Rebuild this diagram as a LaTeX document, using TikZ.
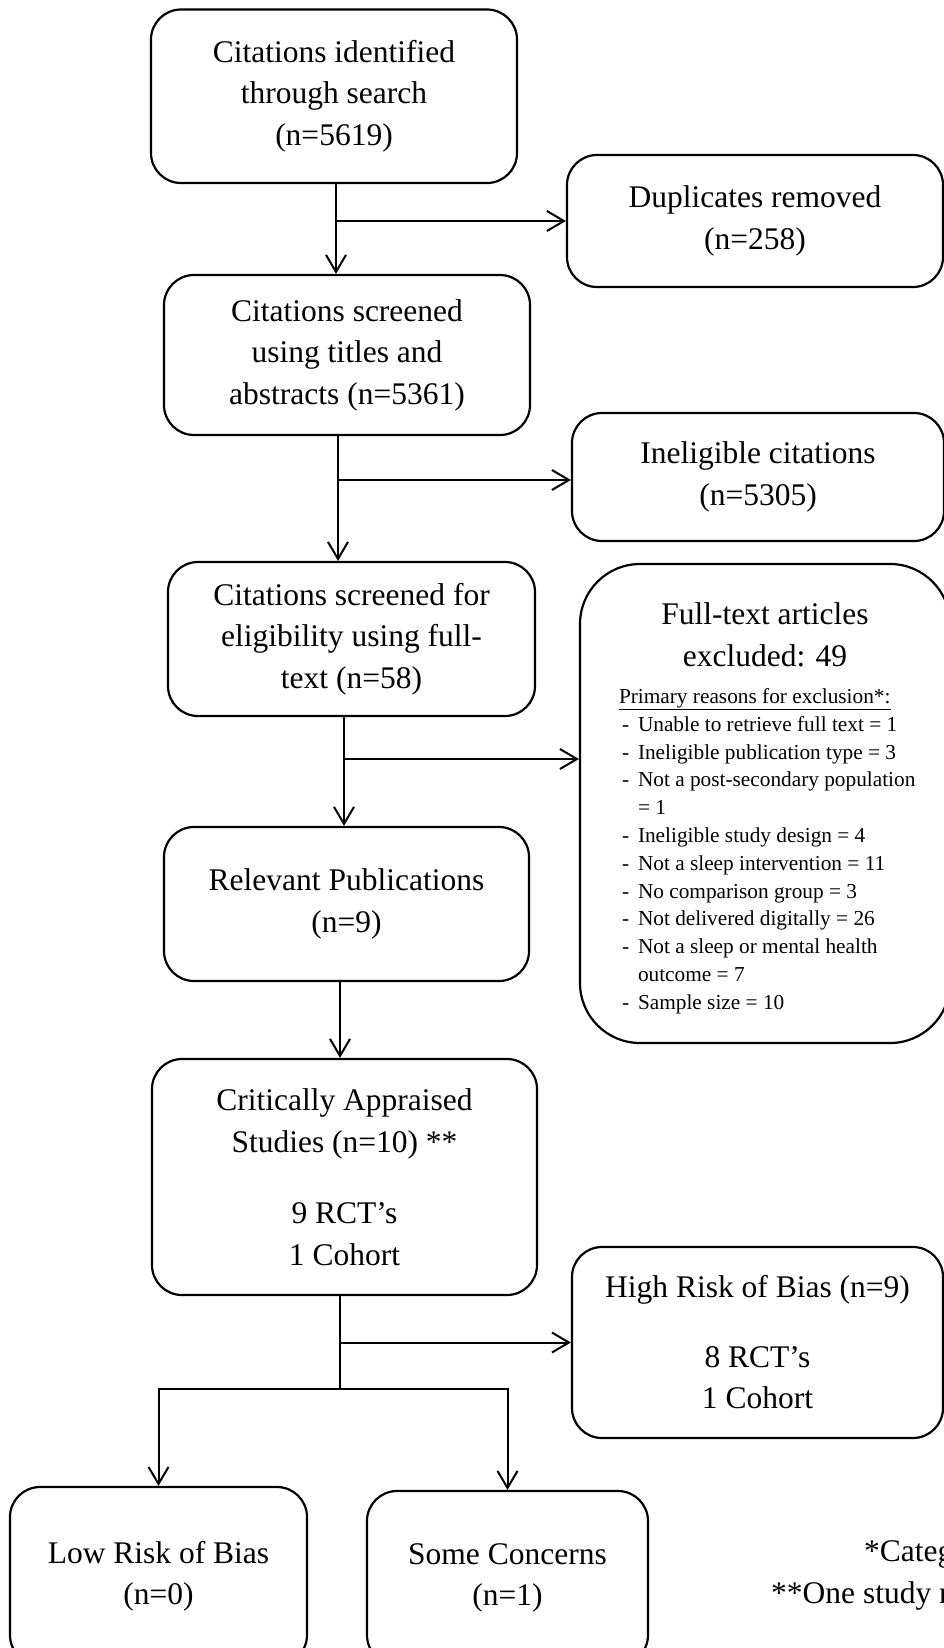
\documentclass[tikz,border=0pt]{standalone}
\usepackage{fontspec}
\setmainfont{Liberation Serif}
\usetikzlibrary{arrows.meta,calc}
\newcommand\bigf{\fontsize{31.5}{41.5}\selectfont}
\newcommand\smallf{\fontsize{21.3}{27.8}\selectfont}
\newcommand\litem[1]{\mbox{\makebox[19pt][l]{\hspace{3pt}-}#1}}
\newcommand\lcont[1]{\mbox{\hspace*{19pt}#1}}
\begin{document}
\begin{tikzpicture}[x=1pt,y=-1pt,
  box/.style={draw, line width=2.2pt, rounded corners=30pt, inner sep=0pt, align=center, font=\bigf},
  arr/.style={line width=2pt, -{Straight Barb[length=17pt,width=20pt,line width=2pt]}},
  ln/.style={line width=2pt},
  foot/.style={anchor=base west, inner sep=0pt, font=\bigf}]
\useasboundingbox (0,0) rectangle (944,1648);

\node[box, minimum width=366pt, minimum height=173.5pt] (b1) at (334,96.25)
  {Citations identified\\through search\\(n=5619)};
\node[box, minimum width=376pt, minimum height=132pt] (dup) at (755,221)
  {Duplicates removed\\(n=258)};
\node[box, minimum width=366pt, minimum height=160pt] (b2) at (347,355)
  {Citations screened\\using titles and\\abstracts (n=5361)};
\node[box, minimum width=372pt, minimum height=128pt] (inel) at (758,477)
  {Ineligible citations\\(n=5305)};
\node[box, minimum width=367pt, minimum height=154pt] (b3) at (351.5,639)
  {Citations screened for\\eligibility using full-\\text (n=58)};
\node[box, rounded corners=60pt, minimum width=370pt, minimum height=479pt] (ft) at (765,803.5)
  {\parbox{292pt}{\vspace*{9.6pt}\centering\bigf Full-text articles\\excluded: 49\par
   \vspace{9.5pt}\raggedright\smallf
   \mbox{\underline{Primary reasons for exclusion*:}}\\
   \litem{Unable to retrieve full text = 1}\\
   \litem{Ineligible publication type = 3}\\
   \litem{Not a post-secondary population}\\
   \lcont{= 1}\\
   \litem{Ineligible study design = 4}\\
   \litem{Not a sleep intervention = 11}\\
   \litem{No comparison group = 3}\\
   \litem{Not delivered digitally = 26}\\
   \litem{Not a sleep or mental health}\\
   \lcont{outcome = 7}\\
   \litem{Sample size = 10}\par}};
\node[box, minimum width=365pt, minimum height=154pt] (b4) at (346.5,904)
  {Relevant Publications\\(n=9)};
\node[box, minimum width=385pt, minimum height=236pt] (b5) at (344.5,1177)
  {Critically Appraised\\Studies (n=10) **\\[30pt]9 RCT’s\\1 Cohort};
\node[box, minimum width=371pt, minimum height=191pt] (high) at (757.5,1342.5)
  {High Risk of Bias (n=9)\\[28pt]8 RCT’s\\1 Cohort};
\node[box, minimum width=297pt, minimum height=178pt] (low) at (158.5,1576)
  {Low Risk of Bias\\(n=0)};
\node[box, minimum width=281pt, minimum height=174pt] (some) at (507.5,1578)
  {Some Concerns\\(n=1)};

\node[foot] (fn1) at (864,1561) {*Categ};
\node[foot] (fn2) at (771,1603) {**One study r};

% connectors
\draw[arr] ([xshift=2pt]b1.south) -- ([xshift=2pt]b1.south |- b2.north);
\draw[arr] ([xshift=2pt]b1.south |- dup.west) -- (dup.west);

\draw[arr] ([xshift=-9pt]b2.south) -- ([xshift=-9pt]b2.south |- b3.north);
\draw[arr] ([xshift=-9pt,yshift=-3pt]b2.south |- inel.west) -- ([yshift=-3pt]inel.west);

\draw[arr] ([xshift=-7.5pt]b3.south) -- ([xshift=-7.5pt]b3.south |- b4.north);
\draw[arr] ([xshift=-7.5pt,yshift=44.5pt]b3.south |- ft.west) -- ([yshift=44.5pt]ft.west);

\draw[arr] ([xshift=-6.5pt]b4.south) -- ([xshift=-6.5pt]b4.south |- b5.north);

\coordinate (j5) at ($(b5.south)+(-4.5pt,-93pt)$);
\draw[ln] ([xshift=-4.5pt]b5.south) -- (j5);
\draw[arr] (j5 |- high.west) -- (high.west);
\draw[arr] (j5) -| (low.north);
\draw[arr] (j5) -| (some.north);
\end{tikzpicture}
\end{document}
